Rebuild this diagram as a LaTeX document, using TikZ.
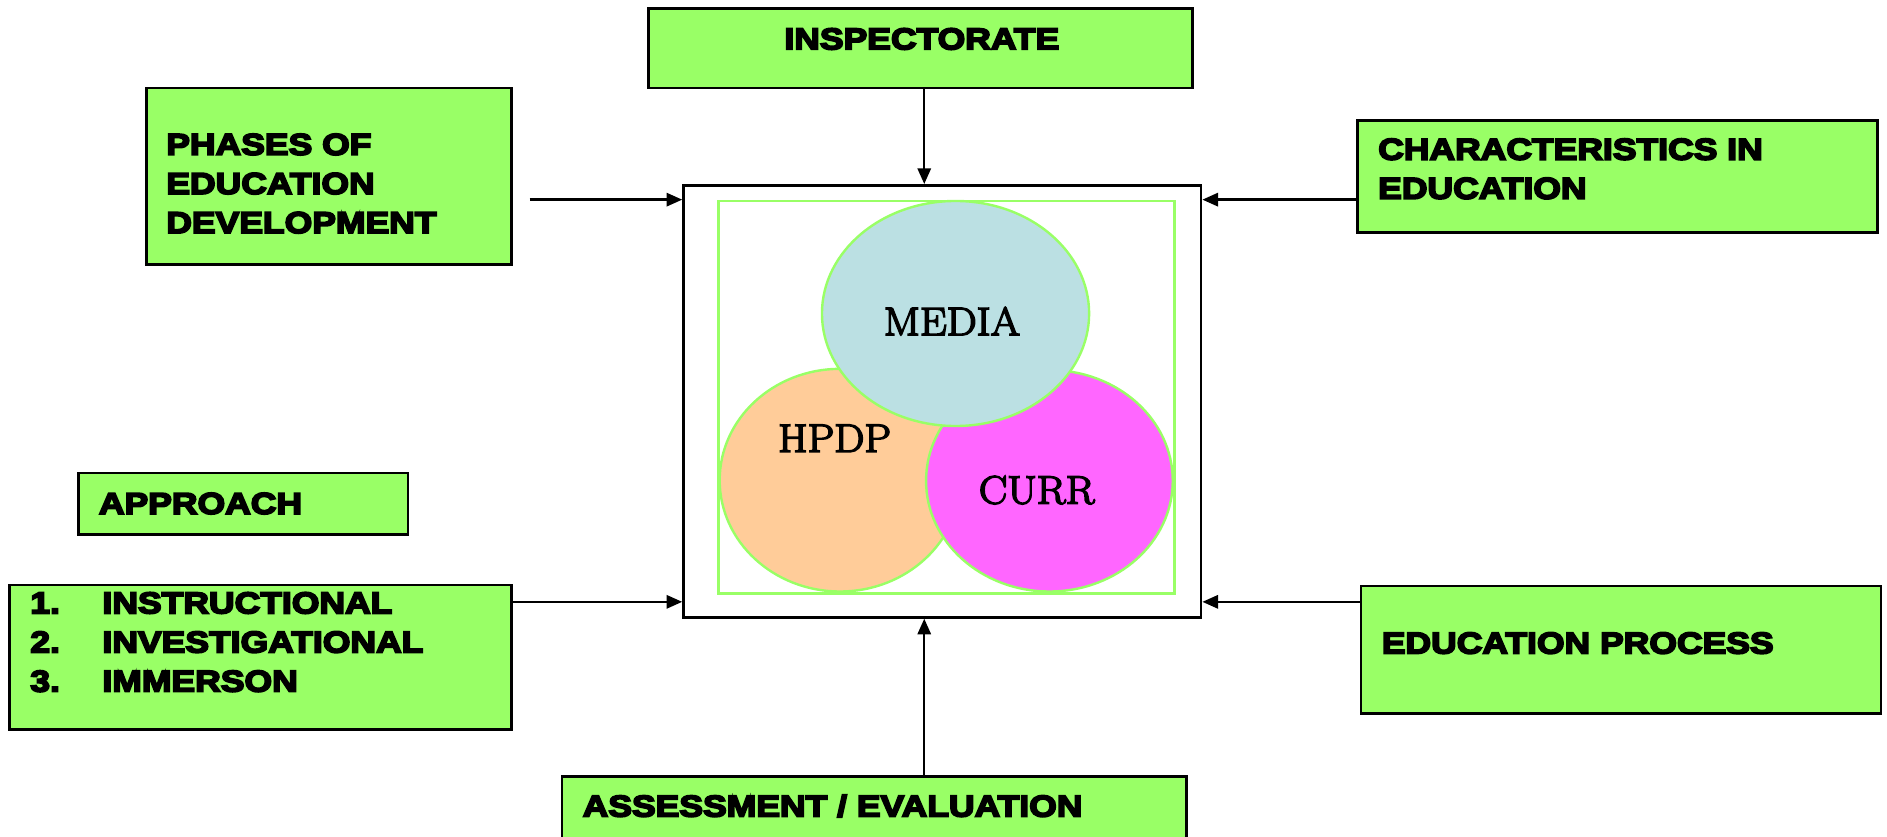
\documentclass[tikz,border=0pt]{standalone}
\usepackage{fontspec}
\usetikzlibrary{arrows.meta,shapes.geometric}
\newfontfamily\boxfont[FakeStretch=1.18,FakeBold=6]{Liberation Sans Bold}
\newfontfamily\ellfont[FakeStretch=1.07,FakeBold=4]{Latin Modern Roman}
\definecolor{boxgreen}{HTML}{99FF66}
\definecolor{mediablue}{HTML}{BBE0E3}
\definecolor{hpdppeach}{HTML}{FFCC99}
\definecolor{currpink}{HTML}{FF66FF}
\pgfdeclarelayer{bg}
\pgfsetlayers{bg,main}

\begin{document}
\begin{tikzpicture}[x=1pt,y=-1pt,
        gbox/.style={draw=black, line width=2.2pt, fill=boxgreen, inner sep=0pt},
        btext/.style={font=\boxfont\fontsize{25}{32.5}\selectfont, align=left, inner sep=0pt},
        ell/.style={ellipse, draw=boxgreen, line width=2pt, inner sep=0pt},
        etext/.style={font=\ellfont\fontsize{33}{36}\selectfont, inner sep=0pt, anchor=base},
        arr/.style={line width=2pt, -{Triangle[length=13pt,width=11pt]}}]
        \useasboundingbox (0,0) rectangle (1568,695);
        % outer boxes
        \node (insp) [gbox, minimum width=452pt, minimum height=66pt] at (765,40) {};
        \node (phases) [gbox, minimum width=303pt, minimum height=147pt] at (273.5,146.5) {};
        \node (charac) [gbox, minimum width=432pt, minimum height=93pt] at (1344,146.5) {};
        \node (approach) [gbox, minimum width=274pt, minimum height=51pt] at (202,418.5) {};
        \node (list) [gbox, minimum width=417pt, minimum height=120pt] at (216.5,546) {};
        \node (proc) [gbox, minimum width=432pt, minimum height=106pt] at (1347,540) {};
        \node (assess) [gbox, minimum width=519pt, minimum height=75pt] at (726.5,682.5) {};
        % box texts
        \node (inspT) [btext, anchor=base] at (766,41) {INSPECTORATE};
        \node (phasesT) [btext, anchor=north west] at (138,111) {PHASES OF\\EDUCATION\\DEVELOPMENT};
        \node (characT) [btext, anchor=north west] at (1145,115) {CHARACTERISTICS IN\\EDUCATION};
        \node (approachT) [btext, anchor=base west] at (82,427) {APPROACH};
        \node (listT) [btext, anchor=north west] at (25,492) {\makebox[60pt][l]{1.}INSTRUCTIONAL\\\makebox[60pt][l]{2.}INVESTIGATIONAL\\\makebox[60pt][l]{3.}IMMERSON};
        \node (procT) [btext, anchor=base west] at (1148,543) {EDUCATION PROCESS};
        \node (assessT) [btext, anchor=base west] at (484,678.5) {ASSESSMENT / EVALUATION};
        % centre
        \node (core) [draw=black, line width=2.2pt, minimum width=430pt, minimum height=359pt, inner sep=0pt] at (783,333.5) {};
        \node (inner) [draw=boxgreen, line width=2pt, minimum width=379pt, minimum height=326pt, inner sep=0pt] at (786.5,330) {};
        \node (hpdp) [ell, fill=hpdppeach, minimum width=200pt, minimum height=185pt] at (698,399) {};
        \node (curr) [ell, fill=currpink, minimum width=205pt, minimum height=184pt] at (872,399.5) {};
        \node (media) [ell, fill=mediablue, minimum width=222pt, minimum height=187pt] at (794,260.5) {};
        \node (mediaT) [etext] at (791,278.5) {MEDIA};
        \node (hpdpT) [etext] at (693.5,375.5) {HPDP};
        \node (currT) [etext] at (861.5,418.5) {CURR};
        \coordinate (inTL) at ([yshift=-13pt]core.north west);
        \coordinate (inTR) at ([yshift=-13pt]core.north east);
        \coordinate (inBL) at ([yshift=14pt]core.south west);
        \coordinate (inBR) at ([yshift=14pt]core.south east);
        \coordinate (vx) at ([xshift=3pt]insp.south);
        \begin{pgfonlayer}{bg}
                \draw (vx) edge [arr] (vx |- core.north);
                \draw (assess.north -| vx) edge [arr] (core.south -| vx);
                \draw ([xshift=14pt]phases.east |- inTL) edge [arr] (inTL);
                \draw (charac.west |- inTR) edge [arr] (inTR);
                \draw (list.east |- inBL) edge [arr] (inBL);
                \draw (proc.west |- inBR) edge [arr] (inBR);
        \end{pgfonlayer}
\end{tikzpicture}
\end{document}
